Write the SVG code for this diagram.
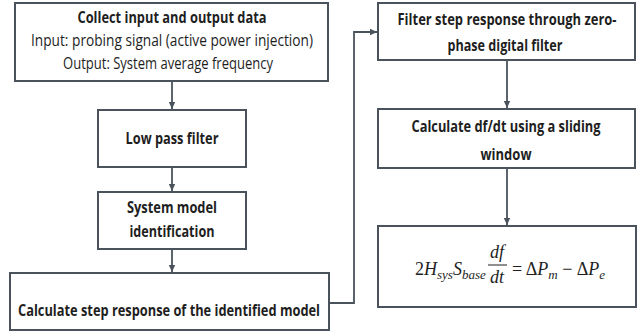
<svg xmlns="http://www.w3.org/2000/svg" width="640" height="333" viewBox="0 0 640 333">
<style>
.box{fill:#fff;stroke:#4a535c;stroke-width:2}
.t{font-family:"Open Sans","Liberation Sans",sans-serif;font-size:15.5px;fill:#1e1e1e;text-anchor:middle}
.b{font-weight:bold}
.c{fill:none;stroke:#4a535c;stroke-width:1.8}
.m{font-family:"Liberation Serif","DejaVu Serif",serif;font-style:italic;fill:#1e1e1e;font-size:18px}
.s{font-size:13px}
</style>
<defs>
<marker id="ah" markerWidth="8" markerHeight="8" refX="7" refY="4" orient="auto" markerUnits="userSpaceOnUse">
<path d="M0,0.8 L7,4 L0,7.2 Z" fill="#4a535c"/>
</marker>
</defs>
<g id="connectors">
<line class="c" x1="172" y1="81" x2="172" y2="109" marker-end="url(#ah)"/>
<line class="c" x1="172" y1="167" x2="172" y2="191" marker-end="url(#ah)"/>
<line class="c" x1="172" y1="249" x2="172" y2="272" marker-end="url(#ah)"/>
<polyline class="c" points="329,303 354,303 354,32 377,32" marker-end="url(#ah)"/>
<line class="c" x1="507" y1="60" x2="507" y2="108" marker-end="url(#ah)"/>
<line class="c" x1="507" y1="168" x2="507" y2="225" marker-end="url(#ah)"/>
</g>
<g id="collect">
<rect class="box" x="15" y="3" width="313" height="78"/>
<text class="t b" x="172" y="23" textLength="189" lengthAdjust="spacingAndGlyphs">Collect input and output data</text>
<text class="t" x="172" y="46" textLength="282" lengthAdjust="spacingAndGlyphs">Input: probing signal (active power injection)</text>
<text class="t" x="168" y="69" textLength="210" lengthAdjust="spacingAndGlyphs">Output: System average frequency</text>
</g>
<g id="lowpass">
<rect class="box" x="98" y="110" width="148" height="57"/>
<text class="t b" x="172" y="144" textLength="93" lengthAdjust="spacingAndGlyphs">Low pass filter</text>
</g>
<g id="sysid">
<rect class="box" x="98" y="192" width="148" height="57"/>
<text class="t b" x="172" y="213" textLength="90" lengthAdjust="spacingAndGlyphs">System model</text>
<text class="t b" x="172" y="237" textLength="85" lengthAdjust="spacingAndGlyphs">identification</text>
</g>
<g id="stepresp">
<rect class="box" x="10" y="273" width="319" height="57"/>
<text class="t b" x="169" y="316" textLength="302" lengthAdjust="spacingAndGlyphs">Calculate step response of the identified model</text>
</g>
<g id="zerophase">
<rect class="box" x="378" y="3" width="257" height="57"/>
<text class="t b" x="507" y="25" textLength="219" lengthAdjust="spacingAndGlyphs">Filter step response through zero-</text>
<text class="t b" x="505" y="51" textLength="115" lengthAdjust="spacingAndGlyphs">phase digital filter</text>
</g>
<g id="dfdt">
<rect class="box" x="378" y="109" width="257" height="59"/>
<text class="t b" x="506" y="132" textLength="189" lengthAdjust="spacingAndGlyphs">Calculate df/dt using a sliding</text>
<text class="t b" x="506" y="160" textLength="51" lengthAdjust="spacingAndGlyphs">window</text>
</g>
<g id="equation">
<rect class="box" x="378" y="226" width="258" height="81"/>
<text class="m" x="415" y="275"><tspan font-style="normal">2</tspan>H<tspan class="s" dy="4">sys</tspan><tspan dy="-4">S</tspan><tspan class="s" dy="4">base</tspan></text>
<text class="m" x="497" y="258" text-anchor="middle">df</text>
<line x1="488" y1="265" x2="507" y2="265" stroke="#1e1e1e" stroke-width="1"/>
<text class="m" x="497" y="283" text-anchor="middle">dt</text>
<text class="m" x="512" y="275"><tspan font-style="normal">= Δ</tspan>P<tspan class="s" dy="4">m</tspan><tspan dy="-4" font-style="normal"> − Δ</tspan>P<tspan class="s" dy="4">e</tspan></text>
</g>
</svg>
